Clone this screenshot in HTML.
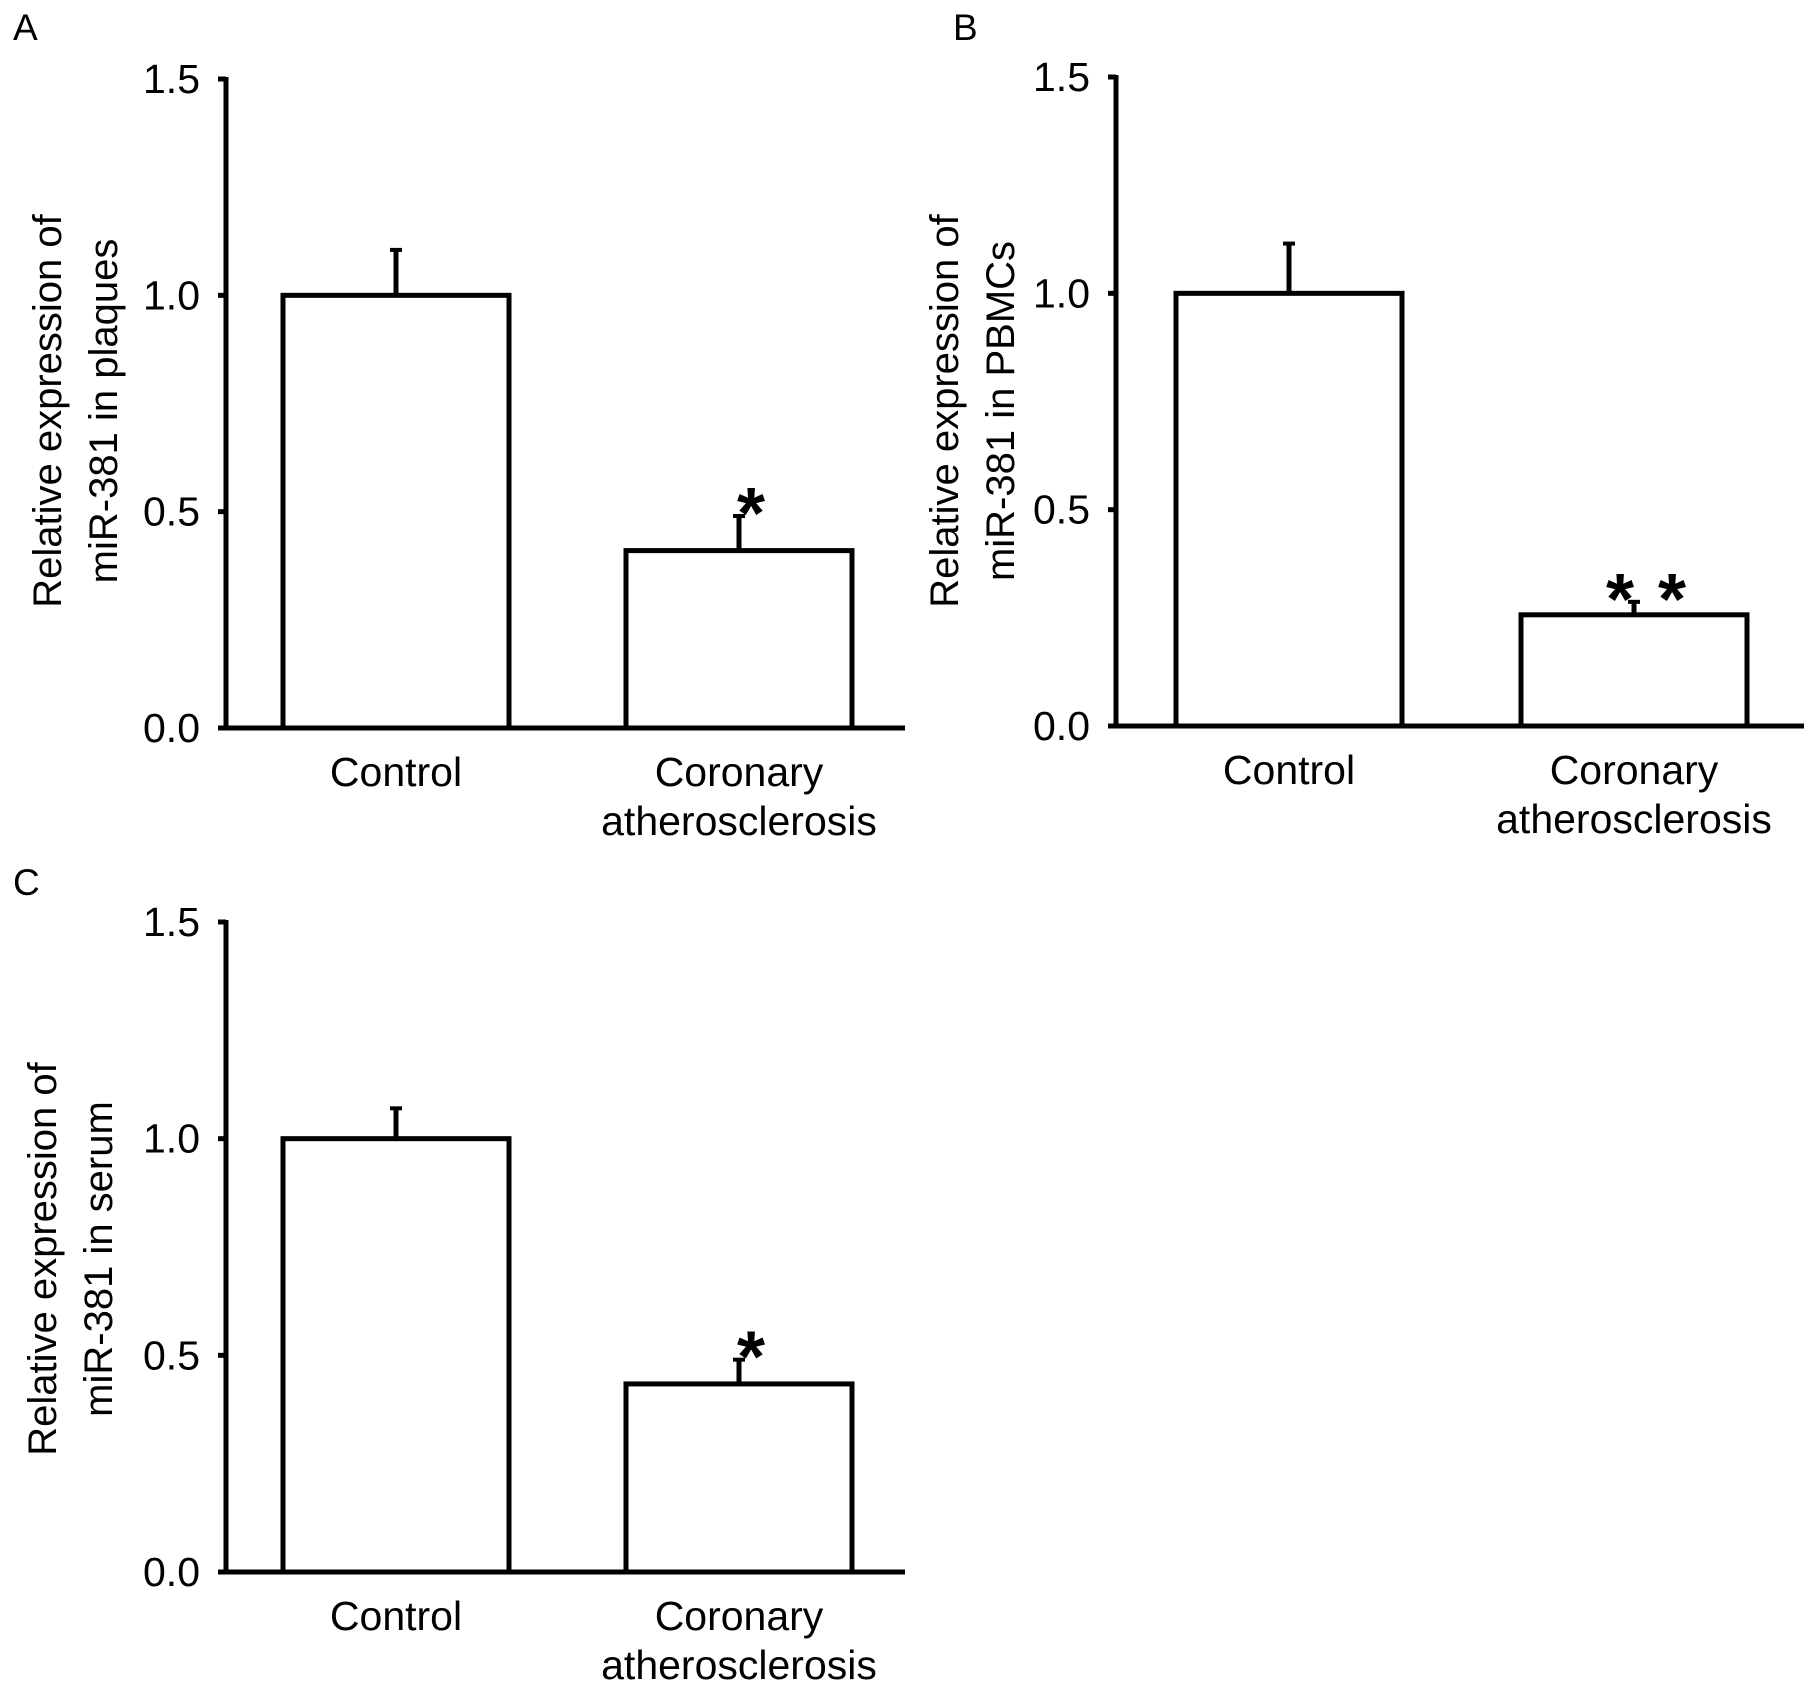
<!DOCTYPE html>
<html><head><meta charset="utf-8"><style>
html,body{margin:0;padding:0;background:#fff;}
svg{display:block;font-family:"Liberation Sans",Arial,sans-serif;}
</style></head>
<body>
<svg id="fig" width="1816" height="1689" viewBox="0 0 1816 1689"></svg>
<script>
const categories = ["Control", "Coronary atherosclerosis"];
const valuesA = [1.0, 0.41];
const errorsA = [0.105, 0.08];
const valuesB = [1.0, 0.257];
const errorsB = [0.115, 0.03];
const valuesC = [1.0, 0.434];
const errorsC = [0.07, 0.056];
const sigA = [0, 1];
const sigB = [0, 2];
const sigC = [0, 1];
const tickValues = [0, 0.5, 1.0, 1.5];
const tickLabels = ["0.0", "0.5", "1.0", "1.5"];

const NS = "http://www.w3.org/2000/svg";
const svg = document.getElementById('fig');
function mk(tag, attrs, parent, text) {
  const e = document.createElementNS(NS, tag);
  for (const k in attrs) e.setAttribute(k, attrs[k]);
  if (text !== undefined) e.textContent = text;
  (parent || svg).appendChild(e);
  return e;
}

function panel(cfg) {
  const g = mk('g', {});
  
  
  const y = v => cfg.y0 - (v / 1.5) * (cfg.y0 - cfg.yTop);
  const L = mk('text', {x: cfg.letterX, y: cfg.letterY, 'font-size': 37, fill: '#000'}, g, cfg.letter);
  
  
  const ax = mk('line', {x1: cfg.ax, y1: y(1.5) - 2, x2: cfg.ax, y2: cfg.y0 + 2, stroke: '#000', 'stroke-width': 5}, g);
  
  
  const xa = mk('line', {x1: cfg.ax - 2, y1: cfg.y0, x2: cfg.axEnd, y2: cfg.y0, stroke: '#000', 'stroke-width': 5}, g);
  
  
  tickValues.forEach((tv, i) => {
    const t = mk('line', {x1: cfg.ax - 8, y1: y(tv), x2: cfg.ax, y2: y(tv), stroke: '#000', 'stroke-width': 5}, g);
    
    
    const tl = mk('text', {x: cfg.ax - 26, y: y(tv) + 14, 'font-size': 41, 'text-anchor': 'end', fill: '#000'}, g, tickLabels[i]);
    
    
  });
  const tt = mk('text', {transform: `translate(${cfg.titleX},${cfg.titleY}) rotate(-90)`, 'font-size': 40, 'text-anchor': 'middle', fill: '#000'}, g);
  
  
  mk('tspan', {x: 0, dy: 0}, tt, 'Relative expression of');
  mk('tspan', {x: 0, dy: 56}, tt, cfg.title2);
  categories.forEach((c, i) => {
    const x1 = cfg.barX[i], w = cfg.barW;
    const top = y(cfg.vals[i]);
    const r = mk('rect', {x: x1, y: top, width: w, height: cfg.y0 - top, fill: '#fff', stroke: '#000', 'stroke-width': 5}, g);
    
    
    const cx = x1 + w / 2;
    const et = y(cfg.vals[i] + cfg.errs[i]);
    const el = mk('line', {x1: cx, y1: top, x2: cx, y2: et, stroke: '#000', 'stroke-width': 5}, g);
    
    
    const ec = mk('line', {x1: cx - 6, y1: et, x2: cx + 6, y2: et, stroke: '#000', 'stroke-width': 4}, g);
    
    
    const n = cfg.sig[i];
    for (let k = 0; k < n; k++) {
      const sx = cx + 12 + (k - (n - 1) / 2) * 52;
      const s = mk('text', {x: sx, y: et + 22, 'font-size': 72, 'font-weight': 'bold', 'text-anchor': 'middle', fill: '#000'}, g, '*');
      
      
    }
    if (i === 0) {
      const lb = mk('text', {x: cx, y: cfg.y0 + 58, 'font-size': 41, 'text-anchor': 'middle', fill: '#000'}, g, 'Control');
      
      
    } else {
      const lb = mk('text', {x: cx, y: cfg.y0 + 58, 'font-size': 41, 'text-anchor': 'middle', fill: '#000'}, g);
      
      
      mk('tspan', {x: cx, dy: 0}, lb, 'Coronary');
      mk('tspan', {x: cx, dy: 49}, lb, 'atherosclerosis');
    }
  });
}

panel({letter: 'A', letterX: 13, letterY: 40, ax: 226, axEnd: 905, yTop: 79, y0: 728,
  barX: [283, 626], barW: 226, vals: valuesA, errs: errorsA, sig: sigA,
  titleX: 61, titleY: 411, title2: 'miR-381 in plaques'});
panel({letter: 'B', letterX: 953, letterY: 40, ax: 1116, axEnd: 1804, yTop: 77, y0: 726,
  barX: [1176, 1521], barW: 226, vals: valuesB, errs: errorsB, sig: sigB,
  titleX: 958, titleY: 411, title2: 'miR-381 in PBMCs'});
panel({letter: 'C', letterX: 13, letterY: 895, ax: 226, axEnd: 905, yTop: 922, y0: 1572,
  barX: [283, 626], barW: 226, vals: valuesC, errs: errorsC, sig: sigC,
  titleX: 56, titleY: 1259, title2: 'miR-381 in serum'});
</script>
</body></html>
